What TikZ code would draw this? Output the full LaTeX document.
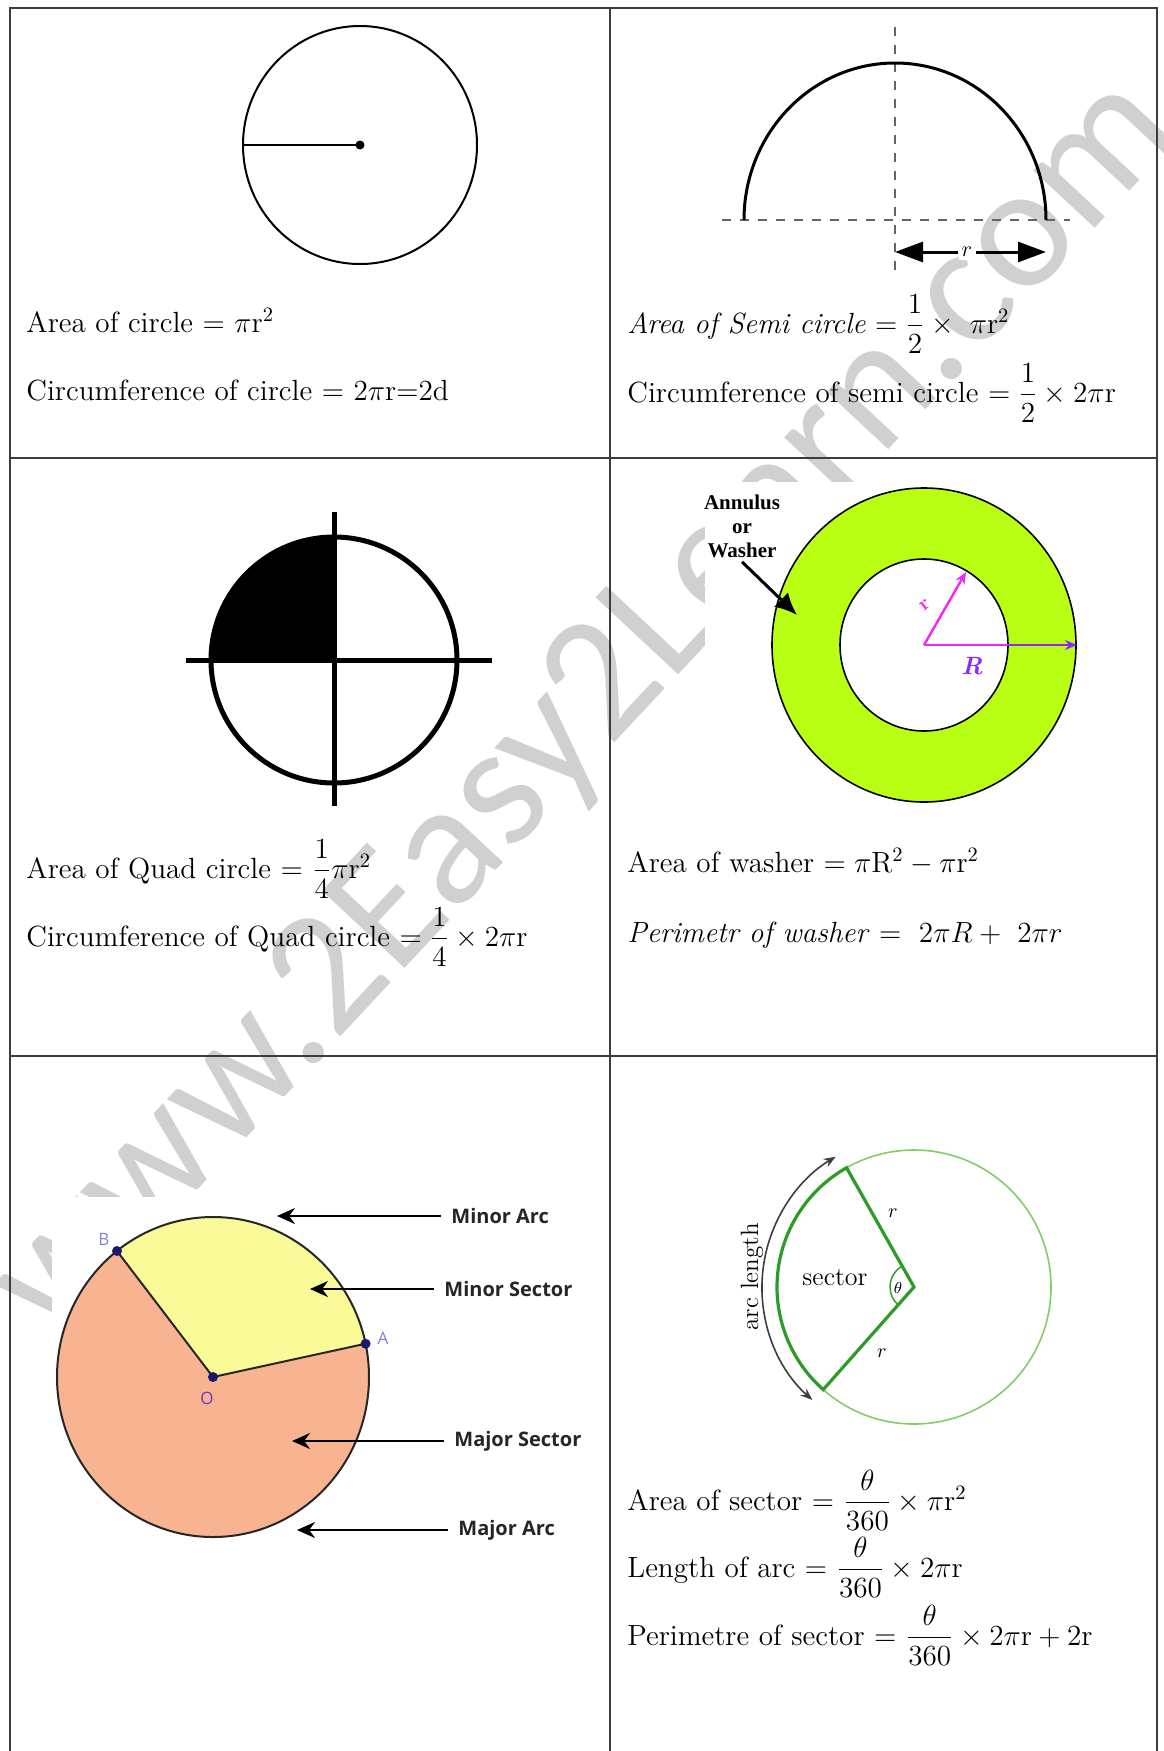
\RequirePackage{fix-cm}
\documentclass[tikz,border=0pt]{standalone}
\usepackage{amsmath}
\usepackage{fontspec}
\newfontfamily\wmfont{Carlito}
\newfontfamily\lblsans{Open Sans}
\newfontfamily\tnrfont{Liberation Serif}
\usetikzlibrary{arrows.meta}
\definecolor{framegray}{RGB}{60,60,60}
\definecolor{dashgray}{RGB}{100,100,100}
\definecolor{annfill}{RGB}{184,255,20}
\definecolor{minorfill}{RGB}{250,250,152}
\definecolor{majorfill}{RGB}{248,180,145}
\definecolor{ptnavy}{RGB}{25,25,110}
\definecolor{lblB}{RGB}{130,130,220}
\definecolor{lblO}{RGB}{120,50,200}
\definecolor{magR}{RGB}{240,40,240}
\definecolor{vioR}{RGB}{140,40,250}
\definecolor{sectgreen}{RGB}{45,155,40}
\definecolor{circgreen}{RGB}{130,205,100}
\definecolor{wmgray}{RGB}{208,208,208}
\definecolor{arcgray}{RGB}{60,60,70}
\tikzset{
  frameln/.style={framegray, line width=1.2pt},
  formula/.style={anchor=base west, inner sep=0pt, font=\fontsize{14.6}{17.5}\selectfont},
  dashln/.style={dashgray, line width=1.3pt, dash pattern=on 4.5pt off 4.5pt},
  bigtip/.style={-{Triangle[length=14pt,width=10pt]}, line width=1.5pt},
  sanslbl/.style={anchor=west, inner xsep=5pt, font=\lblsans\bfseries\fontsize{10}{12}\selectfont, text=black!85},
  lblarrow/.style={-{Stealth[length=9pt,width=8pt]}, line width=1pt},
  ptlbl/.style={font=\lblsans\fontsize{8.5}{10}\selectfont, inner sep=0pt},
}
\begin{document}
\begin{tikzpicture}[x=0.5pt,y=0.5pt]
\useasboundingbox (0,0) rectangle (1163,-1751);
\fill[white] (0,0) rectangle (1163,-1751);
% watermark
\begin{scope}
\clip (0,0) rectangle (1163,-1751);
\node[rotate=47, text=wmgray, font=\wmfont\fontsize{88}{92}\selectfont] (wm) at (587,-710) {www.2Easy2Learn.com};
\end{scope}
% white backgrounds of the pasted pictures (they hide the watermark)
\fill[white] (705,-482) rectangle (1090,-815);
\fill[white] (52,-1197) rectangle (590,-1560);
% frame
\draw[frameln] (10,-1751) -- (10,-8) -- (1157,-8) -- (1157,-1751);
\draw[frameln] (610,-8) -- (610,-1751);
\draw[frameln] (10,-458) -- (1157,-458);
\draw[frameln] (10,-1056) -- (1157,-1056);

% ---------- cell 1: circle
\coordinate (c1) at (360,-145);
\coordinate (c1L) at (243,-145);
\draw[line width=1pt] (c1) ellipse[x radius=117, y radius=119];
\draw[line width=0.8pt] (c1L) -- (c1);
\fill (c1) circle[radius=4.5];
\node[formula] (t1a) at (26,-332) {Area of circle = $\pi\mathrm{r}^2$};
\node[formula] (t1b) at (26,-400) {Circumference of circle = 2$\pi$r=2d};

% ---------- cell 2: semicircle
\coordinate (c2) at (895,-220);
\draw[dashln] (722,-220) -- (1070,-220);
\draw[dashln] (895,-27) -- (895,-278);
\draw[line width=1.5pt] (744,-220) arc[start angle=180, end angle=0, x radius=151, y radius=157];
\coordinate (rL) at (895,-252);
\coordinate (rR) at (1046,-252);
\node[fill=white, inner sep=1.5pt, font=\fontsize{11}{12}\selectfont] (rlab) at (967,-252) {$r$};
\draw[bigtip] (rlab) -- (rL);
\draw[bigtip] (rlab) -- (rR);
\node[formula] (t2a) at (627,-333) {\textit{Area of Semi circle} $=\dfrac{1}{2}\times\ \pi\mathrm{r}^2$};
\node[formula] (t2b) at (627,-402) {Circumference of semi circle $=\dfrac{1}{2}\times 2\pi\mathrm{r}$};

% ---------- cell 3: quad circle
\coordinate (c3) at (334,-660);
\fill (c3) -- ++(0,123) arc[start angle=90, end angle=180, radius=123] -- cycle;
\draw[line width=2.5pt] (c3) circle[radius=123];
\draw[line width=2.5pt] (186,-660) -- (492,-660);
\draw[line width=2.5pt] (334,-512) -- (334,-806);
\node[formula] (t3a) at (26,-878) {Area of Quad circle = $\dfrac{1}{4}\pi\mathrm{r}^2$};
\node[formula] (t3b) at (26,-946) {Circumference of Quad circle $=\dfrac{1}{4}\times 2\pi\mathrm{r}$};

% ---------- cell 4: annulus
\coordinate (c4) at (924,-645);
\fill[annfill, even odd rule] (c4) ellipse[x radius=152, y radius=157] (c4) ellipse[x radius=84, y radius=86];
\draw[line width=0.8pt] (c4) ellipse[x radius=152, y radius=157];
\draw[line width=0.8pt] (c4) ellipse[x radius=84, y radius=86];
\coordinate (rin) at (966,-572);
\coordinate (Rmid) at (1008,-645);
\coordinate (Rout) at (1077,-645);
\draw[magR, line width=1.2pt, -{Stealth[length=6pt,width=5pt]}] (c4) -- (rin);
\draw[magR, line width=1.2pt] (c4) -- (Rmid);
\draw[vioR, line width=1.2pt, -{Stealth[length=6pt,width=5pt]}] (Rmid) -- (Rout);
\node[text=magR, rotate=40, font=\bfseries\fontsize{10}{11}\selectfont] (rsmall) at (925,-605) {r};
\node[text=vioR, font=\bfseries\itshape\fontsize{12.5}{14}\selectfont] (Rlab) at (972,-666) {R};
\node[align=center, font=\tnrfont\bfseries\fontsize{10.5}{12}\selectfont, inner sep=2pt] (annlab) at (742,-526) {Annulus\\or\\Washer};
\coordinate (annB) at (797,-615);
\draw[line width=1.5pt, -{Latex[length=11pt,width=10pt]}] (annlab.south) -- (annB);
\node[formula] (t4a) at (627,-872) {Area of washer $=\pi\mathrm{R}^2-\pi\mathrm{r}^2$};
\node[formula] (t4b) at (627,-942) {\textit{Perimetr of washer} $=\ 2\pi R+\ 2\pi r$};

% ---------- cell 5: minor / major sector
\coordinate (O) at (213,-1377);
\coordinate (A) at (365.6,-1343.7);
\coordinate (B) at (117,-1251);
\fill[majorfill] (O) -- (A) arc[start angle=12, end angle=-232, x radius=156, y radius=160] -- cycle;
\fill[minorfill] (O) -- (A) arc[start angle=12, end angle=128, x radius=156, y radius=160] -- cycle;
\draw[line width=1pt, black!85] (O) ellipse[x radius=156, y radius=160];
\draw[line width=1pt, black!85] (B) -- (O) -- (A);
\fill[ptnavy] (O) circle[radius=5];
\fill[ptnavy] (A) circle[radius=5];
\fill[ptnavy] (B) circle[radius=5];
\node[ptlbl, text=lblB] (labB) at (104,-1239) {B};
\node[ptlbl, text=lblB] (labA) at (383,-1338) {A};
\node[ptlbl, text=lblO] (labO) at (207,-1398) {O};
\node[sanslbl] (minarc) at (441,-1216) {Minor Arc};
\node[sanslbl] (minsec) at (434,-1289) {Minor Sector};
\node[sanslbl] (majsec) at (444,-1441) {Major Sector};
\node[sanslbl] (majarc) at (448,-1530) {Major Arc};
\coordinate (minarcT) at (277,-1216);
\coordinate (minsecT) at (310,-1289);
\coordinate (majsecT) at (292,-1441);
\coordinate (majarcT) at (297,-1530);
\draw[lblarrow] (minarc.west) -- (minarcT);
\draw[lblarrow] (minsec.west) -- (minsecT);
\draw[lblarrow] (majsec.west) -- (majsecT);
\draw[lblarrow] (majarc.west) -- (majarcT);

% ---------- cell 6: sector
\coordinate (c6) at (914,-1287);
\draw[circgreen, line width=0.8pt] (c6) circle[radius=137];
\draw[sectgreen, line width=1.6pt] (c6) -- ++(119.5:137) arc[start angle=119.5, end angle=228.5, radius=137] -- cycle;
\draw[sectgreen, line width=0.7pt] (c6) ++(119.5:24) arc[start angle=119.5, end angle=228.5, radius=24];
\draw[arcgray, line width=0.8pt, {Stealth[length=6pt,width=4.5pt]}-{Stealth[length=6pt,width=4.5pt]}] (c6) ++(228:152) arc[start angle=228, end angle=121, radius=152];
\node[font=\fontsize{8}{9}\selectfont, inner sep=0pt] (thlab) at (898,-1288) {$\theta$};
\node[rotate=90, font=\fontsize{12.5}{14}\selectfont] (arclab) at (752,-1277) {arc length};
\node[font=\fontsize{13}{15}\selectfont] (seclab) at (835,-1278) {sector};
\node[font=\fontsize{10}{11}\selectfont] (rup) at (893,-1213) {$r$};
\node[font=\fontsize{10}{11}\selectfont] (rdn) at (882,-1353) {$r$};
\node[formula] (t6a) at (627,-1510) {Area of sector = $\dfrac{\theta}{360}\times\pi\mathrm{r}^2$};
\node[formula] (t6b) at (627,-1577) {Length of arc = $\dfrac{\theta}{360}\times 2\pi\mathrm{r}$};
\node[formula] (t6c) at (627,-1645) {Perimetre of sector = $\dfrac{\theta}{360}\times 2\pi\mathrm{r}+2\mathrm{r}$};
\end{tikzpicture}
\end{document}
